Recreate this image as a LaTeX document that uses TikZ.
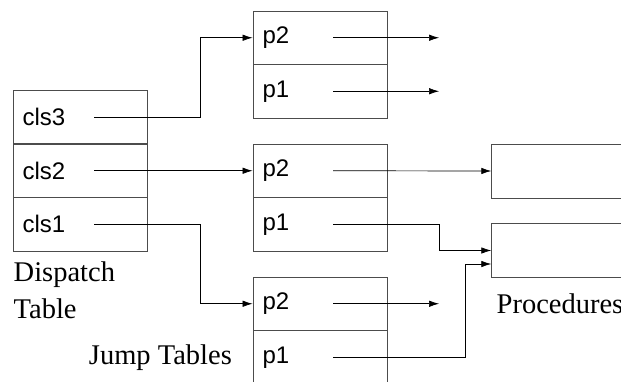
\documentclass[tikz,border=0pt]{standalone}
\usepackage{fontspec}
\setmainfont{Liberation Serif}
\newfontfamily\sansf{Liberation Sans}
\usetikzlibrary{arrows.meta,calc}
\begin{document}
\begin{tikzpicture}[x=1pt,y=1pt,
  rowbox/.style={draw=black!70, line width=0.9pt, minimum width=134pt, minimum height=53.5pt,
    text width=115pt, align=left, inner xsep=9.5pt, inner ysep=0pt,
    font=\sansf\fontsize{24}{29}\selectfont},
  procbox/.style={draw=black!70, line width=0.9pt, minimum width=168pt, minimum height=54pt, inner sep=0pt},
  conn/.style={draw=black, line width=0.7pt},
  arr/.style={conn, -{Latex[length=10pt,width=6.5pt]}},
  lab/.style={font=\fontsize{28.5}{37}\selectfont, inner sep=0pt}]
\useasboundingbox (0,0) rectangle (621,381);
\clip (0,0) rectangle (621,381);
% dispatch table
\node[rowbox] (d3) at (80,264) {cls3};
\node[rowbox] (d2) at (80,210.25) {cls2};
\node[rowbox] (d1) at (80,156.75) {cls1};
% jump tables
\node[rowbox] (a2) at (320,343.25) {p2};
\node[rowbox] (a1) at (320,289.75) {p1};
\node[rowbox] (b2) at (320,210.25) {p2};
\node[rowbox] (b1) at (320,156.75) {p1};
\node[rowbox] (c2) at (320,77.25) {p2};
\node[rowbox] (c1) at (320,23.75) {p1};
% procedures
\node[procbox] (proc1) at (575.7,210) {};
\node[procbox] (proc2) at (575.7,130.5) {};
% labels
\node[lab, anchor=base west, align=left] (dlab) at (13.5,63) {Dispatch\\Table};
\node[lab, anchor=base east] (jlab) at (232,17) {Jump Tables};
\node[lab, anchor=base west] (plab) at (496.5,68) {Procedures};
% coordinates
\coordinate (s3) at (94,264);
\coordinate (s2) at (94,210.25);
\coordinate (s1) at (94,156.75);
\coordinate (bx) at (200,0);
\coordinate (ta2) at (333,343.25);
\coordinate (ta1) at (333,289.75);
\coordinate (tb2) at (333,210.25);
\coordinate (tb1) at (333,156.75);
\coordinate (tc2) at (333,77.25);
\coordinate (tc1) at (333,23.75);
\coordinate (ea2) at (439,343.25);
\coordinate (ea1) at (439,289.75);
\coordinate (ec2) at (439,77.25);
\coordinate (bx2) at (439,0);
\coordinate (bx3) at (465.7,0);
\coordinate (p2in) at ($(proc2.west)+(0,-13.5)$);
% connectors
\draw[arr] (s3) -- (s3 -| bx) |- (a2.west);
\draw[arr] (s2) -- (b2.west);
\draw[arr] (s1) -- (s1 -| bx) |- (c2.west);
\draw[arr] (ta2) -- (ea2);
\draw[arr] (ta1) -- (ea1);
\draw[arr] (tb2) -- (proc1.west);
\draw[arr] (tb1) -- (tb1 -| bx2) |- (proc2.west);
\draw[arr] (tc2) -- (ec2);
\draw[arr] (tc1) -- (tc1 -| bx3) |- (p2in);
\end{tikzpicture}
\end{document}
